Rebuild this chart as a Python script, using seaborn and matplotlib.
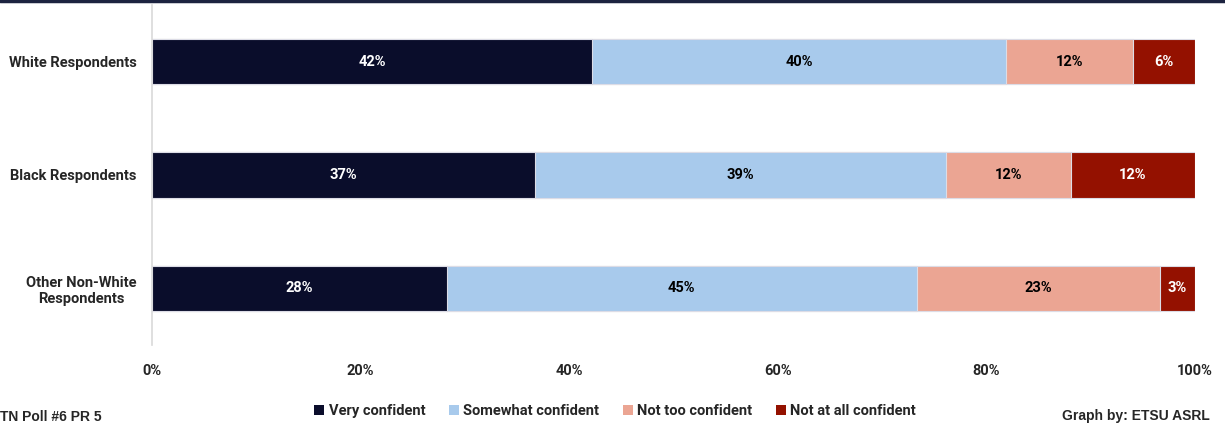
import numpy as np
import pandas as pd
import seaborn as sns
import matplotlib.pyplot as plt
from matplotlib.lines import Line2D
from matplotlib.patches import Patch
from matplotlib.ticker import PercentFormatter

groups = ["White Respondents", "Black Respondents", "Other Non-White\nRespondents"]
series = ["Very confident", "Somewhat confident", "Not too confident", "Not at all confident"]
very = [42.2, 36.7, 28.3]
somewhat = [39.7, 39.4, 45.0]
not_too = [12.2, 12.0, 23.3]
not_at_all = [5.9, 11.9, 3.4]
labels = [["42%", "37%", "28%"], ["40%", "39%", "45%"], ["12%", "12%", "23%"], ["6%", "12%", "3%"]]
colors = ["#0a0d2b", "#a8caec", "#eba593", "#941100"]
text_colors = ["white", "black", "black", "white"]

sns.set_style("white")
plt.rcParams["font.family"] = ["Roboto", "DejaVu Sans"]
plt.rcParams["font.weight"] = "bold"

df = pd.DataFrame({"group": groups, series[0]: very, series[1]: somewhat,
                   series[2]: not_too, series[3]: not_at_all})
cum = df[series].cumsum(axis=1)

fig = plt.figure(figsize=(12.25, 4.24), dpi=100)
ax = fig.add_axes([152 / 1225, 1 - 345 / 424, 1043 / 1225, 340 / 424])

# stacked bars: draw cumulative totals from the last series backwards
for i in range(len(series) - 1, -1, -1):
    sns.barplot(data=cum.assign(group=groups), x=series[i], y="group", color=colors[i],
                orient="h", width=0.4, edgecolor="#dcdce6", linewidth=0.8, ax=ax,
                saturation=1)

for i, s in enumerate(series):
    left = cum[s] - df[s]
    for j in range(len(groups)):
        ax.text(left[j] + df[s][j] / 2, j, labels[i][j], ha="center", va="center",
                color=text_colors[i], fontsize=10.5, fontweight="bold")

ax.set_xlim(0, 100)
ax.set_ylim(2.5, -0.5)
ax.xaxis.set_major_formatter(PercentFormatter(decimals=0))
ax.set_xticks(np.arange(0, 101, 20))
ax.set_xlabel("")
ax.set_ylabel("")
ax.tick_params(axis="both", length=0, labelsize=10.5)
ax.tick_params(axis="x", pad=14)
ax.tick_params(axis="y", pad=11)
for lab in ax.get_xticklabels() + ax.get_yticklabels():
    lab.set_fontweight("bold")
    lab.set_multialignment("center")
for sp in ["top", "right", "bottom"]:
    ax.spines[sp].set_visible(False)
ax.spines["left"].set_color("#d9d9d9")
ax.spines["left"].set_linewidth(1.2)

handles = [Patch(facecolor=c, edgecolor="none") for c in colors]
fig.legend(handles, series, loc="center", bbox_to_anchor=(615 / 1225, 1 - 411 / 424),
           ncol=4, frameon=False, handlelength=0.7, handleheight=0.7,
           handletextpad=0.3, columnspacing=1.6, prop={"weight": "bold", "size": 10.5})

fig.text(0.0, 1 - 417 / 424, "TN Poll #6 PR 5", ha="left", va="center",
         fontsize=10, fontweight="bold", family=["Liberation Sans", "DejaVu Sans"])
fig.text(1210 / 1225, 1 - 416 / 424, "Graph by: ETSU ASRL", ha="right", va="center",
         fontsize=10, fontweight="bold", family=["Liberation Sans", "DejaVu Sans"])

fig.add_artist(Line2D([0, 1], [0.997, 0.997], color="#1c2340", linewidth=2.5,
                      transform=fig.transFigure))

fig.savefig("out.png", dpi=100)
